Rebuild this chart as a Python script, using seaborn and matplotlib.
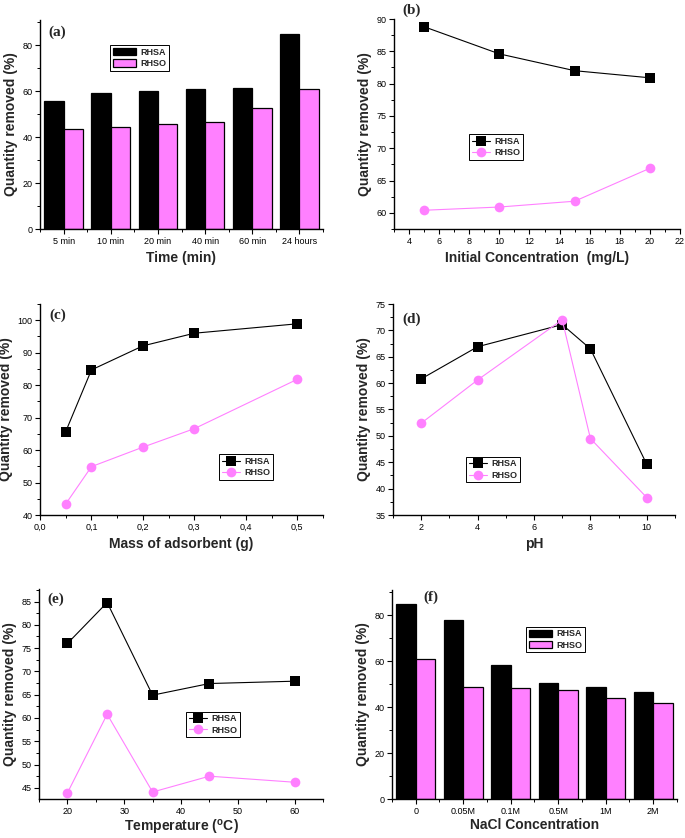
import matplotlib
matplotlib.use("Agg")
import matplotlib.pyplot as plt
import seaborn as sns
import pandas as pd
import numpy as np
from matplotlib.ticker import AutoMinorLocator, MultipleLocator, FixedLocator

sns.set_theme(style="ticks")
plt.rcParams['font.family'] = ['Liberation Sans', 'DejaVu Sans']
plt.rcParams['mathtext.fontset'] = 'custom'
plt.rcParams['mathtext.rm'] = 'Liberation Sans:bold'

BLACK = "#000000"
PINK = "#FF80FF"
SERIES = ["RHSA", "RHSO"]

# ---- data ----
time_labels = ["5 min", "10 min", "20 min", "40 min", "60 min", "24 hours"]
time_rhsa = [55.8, 59.3, 59.9, 60.9, 61.3, 84.9]
time_rhso = [43.6, 44.3, 45.8, 46.5, 52.9, 61.0]

conc_x = [5, 10, 15, 20]
conc_rhsa = [88.8, 84.6, 82.0, 80.9]
conc_rhso = [60.4, 60.9, 61.8, 66.9]

mass_x = [0.05, 0.1, 0.2, 0.3, 0.5]
mass_rhsa = [65.7, 84.7, 92.1, 96.0, 98.9]
mass_rhso = [43.4, 54.9, 60.9, 66.6, 81.8]

ph_x = [2, 4, 7, 8, 10]
ph_rhsa = [60.8, 66.9, 71.1, 66.5, 44.6]
ph_rhso = [52.4, 60.6, 72.0, 49.5, 38.3]

temp_x = [20, 27, 35, 45, 60]
temp_rhsa = [76.0, 84.8, 64.9, 67.4, 67.9]
temp_rhso = [43.9, 60.8, 44.1, 47.5, 46.2]

nacl_labels = ["0", "0.05M", "0.1M", "0.5M", "1M", "2M"]
nacl_rhsa = [85.0, 77.8, 58.2, 50.7, 48.6, 46.6]
nacl_rhso = [61.1, 48.6, 48.3, 47.3, 43.8, 41.7]

W, H = 685, 838
fig = plt.figure(figsize=(W / 100, H / 100), dpi=100)


def px_axes(l, t, r, b):
    return fig.add_axes([l / W, 1 - b / H, (r - l) / W, (b - t) / H])


def style_axes(ax, xlabel, panel, px, py, xpad=4):
    for s in ["top", "right"]:
        ax.spines[s].set_visible(False)
    for s in ["left", "bottom"]:
        ax.spines[s].set_linewidth(1.0)
        ax.spines[s].set_color("black")
    ax.tick_params(which="major", direction="out", length=3.5, width=0.8,
                   labelsize=6.5, colors="black", pad=2)
    ax.tick_params(which="minor", direction="out", length=2, width=0.7, colors="black")
    ax.set_ylabel("Quantity removed (%)", fontsize=10, fontweight="bold", labelpad=3)
    ax.set_xlabel(xlabel, fontsize=10, fontweight="bold", labelpad=xpad)
    ax.text(px, py, panel, transform=ax.transAxes, ha="left", va="center",
            fontsize=11, fontweight="bold", family="Liberation Serif")
    ax.grid(False)


def legend(ax, x0, top, bar=False):
    h, l = ax.get_legend_handles_labels()
    leg = ax.legend(h, l, loc="upper left", bbox_to_anchor=(x0, top),
                    borderaxespad=0, fancybox=False, framealpha=1,
                    edgecolor="black", prop={"weight": "bold", "size": 6.5},
                    borderpad=0.3, labelspacing=0.25, handletextpad=0.5,
                    handlelength=2.6 if bar else 2.0,
                    handleheight=0.9 if bar else 0.7)
    leg.get_frame().set_linewidth(0.7)


def bar_panel(ax, cats, a, o, ylim, ymaj):
    df = pd.DataFrame({"cat": cats * 2, "val": a + o,
                       "series": ["RHSA"] * len(cats) + ["RHSO"] * len(cats)})
    sns.barplot(data=df, x="cat", y="val", hue="series", order=cats,
                hue_order=SERIES, palette=[BLACK, PINK], saturation=1,
                width=0.82, edgecolor="black", linewidth=0.9, ax=ax)
    ax.set_xlim(-0.5, len(cats) - 0.5)
    ax.set_ylim(*ylim)
    ax.yaxis.set_major_locator(MultipleLocator(ymaj))
    ax.yaxis.set_minor_locator(AutoMinorLocator(2))
    ax.xaxis.set_minor_locator(FixedLocator(np.arange(-0.5, len(cats), 1.0)))
    ax.tick_params(axis="x", which="major", length=0, pad=5)


def line_panel(ax, xs, a, o, xlim, ylim, xmaj, ymaj):
    df = pd.DataFrame({"x": xs * 2, "y": a + o,
                       "series": ["RHSA"] * len(xs) + ["RHSO"] * len(xs)})
    sns.lineplot(data=df, x="x", y="y", hue="series", style="series",
                 hue_order=SERIES, style_order=SERIES,
                 palette=[BLACK, PINK], markers={"RHSA": "s", "RHSO": "o"},
                 dashes=False, markersize=7, markeredgewidth=0,
                 linewidth=0.8, ax=ax)
    ax.set_xlim(*xlim)
    ax.set_ylim(*ylim)
    ax.xaxis.set_major_locator(MultipleLocator(xmaj))
    ax.xaxis.set_minor_locator(AutoMinorLocator(2))
    ax.yaxis.set_major_locator(MultipleLocator(ymaj))
    ax.yaxis.set_minor_locator(AutoMinorLocator(2))


# (a)
ax = px_axes(40, 20, 323, 229)
bar_panel(ax, time_labels, time_rhsa, time_rhso, (0, 91), 20)
style_axes(ax, "Time (min)", "(a)", 0.028, 0.943)
legend(ax, 0.247, 0.880, bar=True)

# (b)
ax = px_axes(394, 19, 680, 229)
line_panel(ax, conc_x, conc_rhsa, conc_rhso, (3, 22), (57.5, 90), 2, 5)
style_axes(ax, "Initial Concentration  (mg/L)", "(b)", 0.031, 1.043)
legend(ax, 0.262, 0.452)

# (c)
ax = px_axes(40, 304, 323, 515)
line_panel(ax, mass_x, mass_rhsa, mass_rhso, (0, 0.55), (40, 105), 0.1, 10)
ax.xaxis.set_major_formatter(plt.FuncFormatter(lambda v, p: f"{v:.1f}".replace(".", ",")))
style_axes(ax, "Mass of adsorbent (g)", "(c)", 0.032, 0.948)
legend(ax, 0.633, 0.289)

# (d)
ax = px_axes(393, 304, 675, 515)
line_panel(ax, ph_x, ph_rhsa, ph_rhso, (1, 11), (35, 75), 2, 5)
style_axes(ax, "pH", "(d)", 0.032, 0.929)
legend(ax, 0.259, 0.276)

# (e)
ax = px_axes(39, 589, 323, 799)
line_panel(ax, temp_x, temp_rhsa, temp_rhso, (15, 65), (42.6, 87.7), 10, 5)
style_axes(ax, r"Temperature ($^{\mathregular{o}}$C)", "(e)", 0.03, 0.952, xpad=2)
legend(ax, 0.518, 0.416)

# (f)
ax = px_axes(392, 590, 677, 799)
bar_panel(ax, nacl_labels, nacl_rhsa, nacl_rhso, (0, 91), 20)
style_axes(ax, "NaCl Concentration", "(f)", 0.109, 0.967, xpad=2)
legend(ax, 0.470, 0.824, bar=True)

fig.savefig("out.png", dpi=100)
